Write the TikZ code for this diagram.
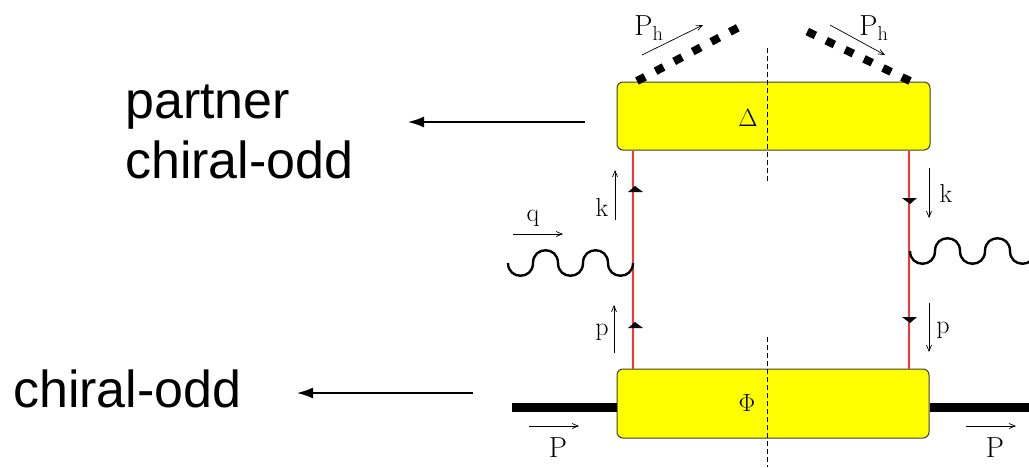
\documentclass[tikz,border=0pt]{standalone}
\usepackage{fontspec}
\newfontfamily\arialfont{Liberation Sans}
\usetikzlibrary{arrows.meta}
\definecolor{blobfill}{RGB}{255,255,0}
\definecolor{blobline}{RGB}{60,60,60}
\definecolor{qlinecol}{RGB}{255,50,50}
\begin{document}
\begin{tikzpicture}[x=1pt,y=-1pt,
  blob/.style={draw=blobline, line width=1pt, fill=blobfill, rounded corners=6pt, inner sep=0pt},
  bigtext/.style={font=\arialfont\fontsize{52}{60}\selectfont, inner sep=0pt, anchor=base west},
  bigarrow/.style={line width=1.5pt, -{Latex[length=16pt,width=11pt]}},
  thinarrow/.style={line width=0.7pt, -{Straight Barb[length=6pt,width=5pt]}},
  lbl/.style={font=\fontsize{26}{30}\selectfont, inner sep=0pt},
  biglbl/.style={font=\fontsize{29}{34}\selectfont, inner sep=0pt},
  quarkline/.style={draw=qlinecol, line width=1.3pt},
  cut/.style={line width=0.9pt, dash pattern=on 5pt off 3pt},
  hadron/.style={line width=8pt, dash pattern=on 9pt off 12pt},
  photon/.style={line width=2.4pt},
  tick/.style={fill=black}
]
\useasboundingbox (0,0) rectangle (1029,467);

% blobs
\node[blob, minimum width=313pt, minimum height=68pt] (delta) at (773.5,116) {};
\node[blob, minimum width=312pt, minimum height=69pt] (phi) at (773,403.5) {};
\node[biglbl] (deltalbl) at (748,118) {$\Delta$};
\node[biglbl] (philbl) at (747,403) {$\Phi$};

% thick incoming/outgoing hadron lines
\coordinate (pin) at (512,407);
\coordinate (pout) at (1029,407);
\draw[line width=9pt] (pin) -- (pin -| phi.west);
\draw[line width=9pt] (pin -| phi.east) -- (pout);

% quark lines
\coordinate (ql) at (633,0);
\coordinate (qr) at (909,0);
\draw[quarkline] (ql |- delta.south) -- (ql |- phi.north);
\draw[quarkline] (qr |- delta.south) -- (qr |- phi.north);

% small arrowheads on quark lines
\fill[tick] (628,192) -- (643,192) -- (635,186) -- cycle;
\fill[tick] (628,328) -- (643,328) -- (635,322) -- cycle;
\fill[tick] (902,198) -- (917,198) -- (910,204) -- cycle;
\fill[tick] (902,317) -- (917,317) -- (910,323) -- cycle;

% cut line
\coordinate (cut1) at (767,48);
\coordinate (cut2) at (767,183);
\coordinate (cut3) at (767,337);
\coordinate (cut4) at (767,467);
\draw[cut] (cut1) -- (cut2);
\draw[cut] (cut3) -- (cut4);

% outgoing hadrons (thick dashed)
\coordinate (hl1) at (637,81);
\coordinate (hl2) at (743,25);
\coordinate (hr1) at (910,81);
\coordinate (hr2) at (800,28);
\draw[hadron] (hl1) -- (hl2);
\draw[hadron] (hr1) -- (hr2);

% photons
\draw[photon] (508,263)
  .. controls (508,280) and (533,280) .. (533,263)
  .. controls (533,246) and (558,246) .. (558,263)
  .. controls (558,280) and (583,280) .. (583,263)
  .. controls (583,246) and (608,246) .. (608,263)
  .. controls (608,280) and (633,280) .. (633,263);
\begin{scope}
\clip (880,200) rectangle (1029,300);
\draw[photon] (910,251)
  .. controls (910,268) and (935,268) .. (935,251)
  .. controls (935,234) and (960,234) .. (960,251)
  .. controls (960,268) and (985,268) .. (985,251)
  .. controls (985,234) and (1010,234) .. (1010,251)
  .. controls (1010,268) and (1035,268) .. (1035,251);
\end{scope}

% momentum arrows and labels
\coordinate (qa1) at (513,234); \coordinate (qa2) at (563,234);
\draw[thinarrow] (qa1) -- (qa2);
\node[lbl] (qlbl) at (533,218) {q};

\coordinate (kl1) at (615,220); \coordinate (kl2) at (615,170);
\draw[thinarrow] (kl1) -- (kl2);
\node[lbl] (kllbl) at (602,207) {k};

\coordinate (pl1) at (614,353); \coordinate (pl2) at (614,305);
\draw[thinarrow] (pl1) -- (pl2);
\node[lbl] (pllbl) at (602,332) {p};

\coordinate (kr1) at (929,168); \coordinate (kr2) at (929,218);
\draw[thinarrow] (kr1) -- (kr2);
\node[lbl] (krlbl) at (946,193) {k};

\coordinate (pr1) at (929,303); \coordinate (pr2) at (929,352);
\draw[thinarrow] (pr1) -- (pr2);
\node[lbl] (prlbl) at (943,330) {p};

\coordinate (Pl1) at (529,426); \coordinate (Pl2) at (579,426);
\draw[thinarrow] (Pl1) -- (Pl2);
\node[biglbl] (Pllbl) at (558,448) {P};

\coordinate (Pr1) at (966,426); \coordinate (Pr2) at (1016,426);
\draw[thinarrow] (Pr1) -- (Pr2);
\node[biglbl] (Prlbl) at (995,448) {P};

\coordinate (Phl1) at (642,55); \coordinate (Phl2) at (703,25);
\draw[thinarrow] (Phl1) -- (Phl2);
\node[biglbl] (Phllbl) at (649,28) {$\mathrm{P_h}$};

\coordinate (Phr1) at (830,25); \coordinate (Phr2) at (885,55);
\draw[thinarrow] (Phr1) -- (Phr2);
\node[biglbl] (Phrlbl) at (874,28) {$\mathrm{P_h}$};

% annotations
\node[bigtext] (partner) at (125,118) {partner};
\node[bigtext] (chiralodd1) at (125,178) {chiral-odd};
\node[bigtext] (chiralodd2) at (13,407) {chiral-odd};
\coordinate (a1s) at (585,122); \coordinate (a1e) at (408,122);
\coordinate (a2s) at (473,393); \coordinate (a2e) at (297,393);
\draw[bigarrow] (a1s) -- (a1e);
\draw[bigarrow] (a2s) -- (a2e);
\end{tikzpicture}
\end{document}
